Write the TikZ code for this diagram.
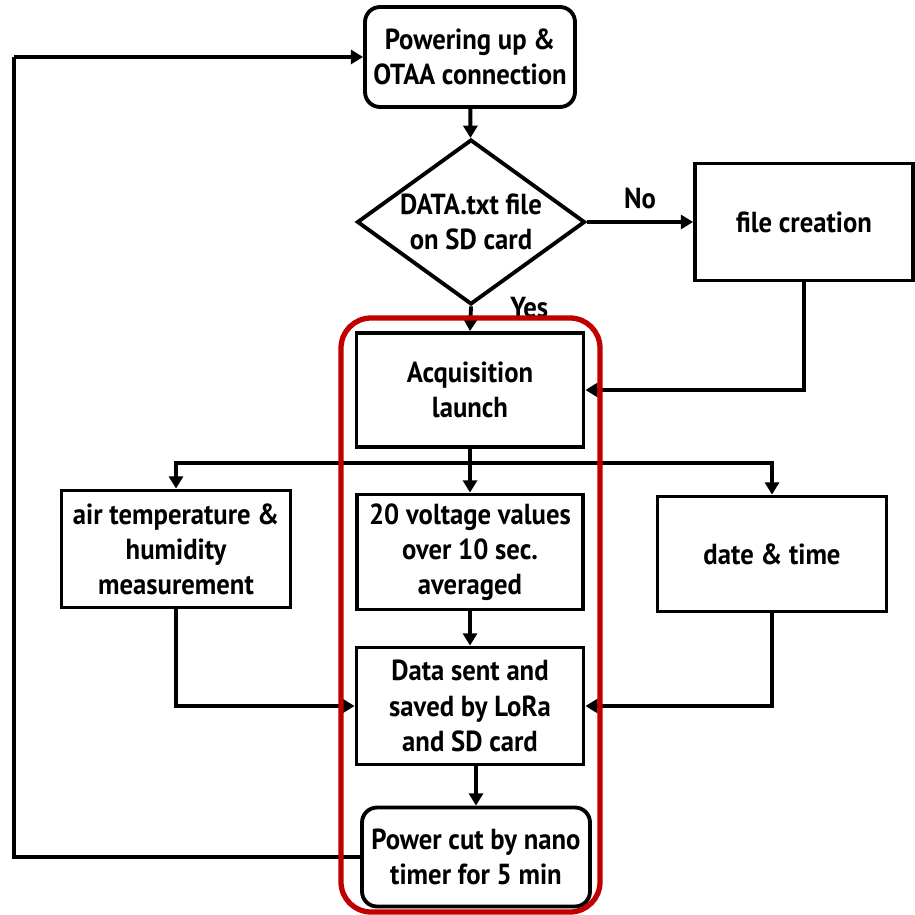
\documentclass[tikz,border=0pt]{standalone}
\usepackage{fontspec}
\setmainfont{PT Sans}[FakeStretch=0.92]
\usetikzlibrary{shapes.geometric,arrows.meta}
\definecolor{framered}{HTML}{C00000}
\begin{document}
\begin{tikzpicture}[x=0.02cm, y=-0.02cm, font=\fontsize{16.5}{20}\selectfont\bfseries]
    \tikzset{ block/.style={draw, line width=2.2pt, align=center, inner sep=2pt},
              roundblock/.style={block, rounded corners=0.3cm},
              decide/.style={draw, diamond, aspect=1.38, line width=2.2pt, align=center,
                             inner xsep=-4pt, inner ysep=-6pt,
                             minimum width=4.56cm, minimum height=3.3cm},
              arr/.style={line width=2.2pt, -{Triangle[length=7pt, width=8pt]}},
              link/.style={line width=2.2pt},
              coord/.style={coordinate} }
    \useasboundingbox (0,0) rectangle (915,915);

    \node[roundblock, minimum width=4.2cm, minimum height=2cm] (power) at (470,57) {Powering up \&\\OTAA connection};
    \node[decide] (check) at (471,222) {DATA.txt file\\on SD card};
    \node[block, minimum width=4.36cm, minimum height=2.34cm] (filebox) at (804,222) {file creation};
    \node[block, minimum width=4.54cm, minimum height=2.28cm] (acq) at (470,390) {Acquisition\\launch};
    \node[block, minimum width=4.58cm, minimum height=2.34cm] (air) at (176,549) {air temperature \&\\humidity\\measurement};
    \node[block, minimum width=4.52cm, minimum height=2.3cm] (volt) at (470,552) {20 voltage values\\over 10 sec.\\averaged};
    \node[block, minimum width=4.58cm, minimum height=2.3cm] (datetime) at (772,554) {date \& time};
    \node[block, minimum width=4.54cm, minimum height=2.34cm] (send) at (470,706) {Data sent and\\saved by LoRa\\and SD card};
    \node[roundblock, minimum width=4.56cm, minimum height=1.98cm] (cut) at (476,857) {Power cut by nano\\timer for 5 min};

    \node[coord] (split) at (471,463) {};
    \node[coord] (loopdown) at (14,857) {};
    \node[coord] (loopup) at (14,57) {};

    \draw[arr] (power) -- (check);
    \draw[arr] (check.east) -- node[above=3pt] {No} (filebox.west);
    \draw[arr] (check.south) -- node[pos=0.05, right=18pt] {Yes} (acq.north);
    \draw[arr] (filebox.south) |- (acq.east);
    \draw[arr] (acq.south) -- (volt.north);
    \draw[arr] (split) -| (air.north);
    \draw[arr] (split) -| (datetime.north);
    \draw[arr] (volt.south) -- (send.north);
    \draw[arr] (air.south) |- (send.west);
    \draw[arr] (datetime.south) |- (send.east);
    \draw[arr] (cut.north |- send.south) -- (cut.north);
    \draw[link] (cut.west) -- (loopdown) -- (loopup);
    \draw[arr] (loopup) -- (power.west);

    \draw[framered, line width=3pt, rounded corners=0.6cm] (341,318) rectangle (600,912);
\end{tikzpicture}
\end{document}
